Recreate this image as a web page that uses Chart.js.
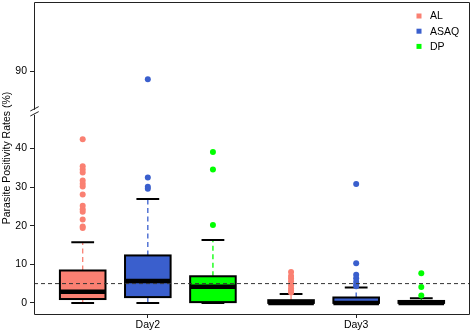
<!DOCTYPE html>
<html>
<head>
<meta charset="utf-8">
<script src="https://cdn.jsdelivr.net/npm/chart.js@4/dist/chart.umd.min.js"></script>
<style>
  html, body { margin: 0; padding: 0; background: #fff; }
  #wrap { width: 472px; height: 333px; }
</style>
</head>
<body>
<div id="wrap"><canvas id="c" width="472" height="333"></canvas></div>
<script>
// ---- data ----
const categories = ['Day2', 'Day3'];
const groups = ['AL', 'ASAQ', 'DP'];
// [group][day]
const lowerWhisker = [[0, 0], [0, 0], [0, 0]];
const q1 = [[1.0, 0], [1.5, 0], [0.2, 0]];
const median = [[2.9, 0], [5.7, 0], [4.2, 0]];
const q3 = [[8.4, 0.7], [12.3, 1.4], [6.9, 0.5]];
const upperWhisker = [[15.7, 2.3], [26.9, 4.0], [16.3, 1.2]];
const outliersAL = [[42.4, 35.4, 34.6, 33.8, 31.7, 30.9, 30.2, 28.1, 25.2, 24.3, 23.6, 21.6, 19.8, 19.4],
                    [8.0, 7.0, 6.3, 5.6, 4.6, 3.8, 3.2, 2.7]];
const outliersASAQ = [[88.0, 32.5, 30.1, 29.6],
                      [30.8, 10.3, 7.3, 6.4, 5.5, 4.7, 4.3]];
const outliersDP = [[39.1, 34.6, 20.2],
                    [7.7, 4.1, 1.9]];
const outliers = [outliersAL, outliersASAQ, outliersDP];
const yTickLabels = [0, 10, 20, 30, 40, 90];
const referenceLevel = 5;
const axisBreak = { from: 50, to: 80 };   // values between are cut out of the axis

// ---- styling / layout ----
const colors = ['#FA8072', '#3A5FCD', '#00FF00'];
const dayGap = 0.2;
const boxWidth = 0.7;
const xMin = 0.252, xMax = 6.948;
const yMin = -2.88, yMax = 78.0;
const FONT = "'Liberation Sans', Arial, Helvetica, sans-serif";

function pos(day, g) { return 1 + day * (groups.length + dayGap) + g; }
function tr(v) { return v >= axisBreak.to ? v - (axisBreak.to - axisBreak.from) : v; }
function untr(v) { return v > axisBreak.from ? v + (axisBreak.to - axisBreak.from) : v; }

const dayTicks = categories.map((c, di) => pos(di, 1));

const boxPlugin = {
  id: 'boxes',
  beforeDatasetsDraw(chart) {
    const { ctx, scales: { x, y } } = chart;
    const half = (x.getPixelForValue(boxWidth) - x.getPixelForValue(0)) / 2;
    const capHalf = half / 2;
    groups.forEach((g, gi) => {
      categories.forEach((c, di) => {
        const cx = x.getPixelForValue(pos(di, gi));
        const yLo = y.getPixelForValue(tr(lowerWhisker[gi][di]));
        const yQ1 = y.getPixelForValue(tr(q1[gi][di]));
        const yMed = y.getPixelForValue(tr(median[gi][di]));
        const yQ3 = y.getPixelForValue(tr(q3[gi][di]));
        const yHi = y.getPixelForValue(tr(upperWhisker[gi][di]));
        ctx.save();
        // whiskers
        ctx.strokeStyle = colors[gi];
        ctx.lineWidth = 1.3;
        ctx.setLineDash([5, 3.5]);
        ctx.beginPath();
        ctx.moveTo(cx, yQ3); ctx.lineTo(cx, yHi);
        ctx.moveTo(cx, yQ1); ctx.lineTo(cx, yLo);
        ctx.stroke();
        ctx.setLineDash([]);
        // caps
        ctx.strokeStyle = '#000';
        ctx.lineWidth = 2;
        ctx.beginPath();
        ctx.moveTo(cx - capHalf, yHi); ctx.lineTo(cx + capHalf, yHi);
        ctx.moveTo(cx - capHalf, yLo); ctx.lineTo(cx + capHalf, yLo);
        ctx.stroke();
        // box
        ctx.fillStyle = colors[gi];
        ctx.fillRect(cx - half, yQ3, 2 * half, yQ1 - yQ3);
        ctx.lineWidth = 2;
        ctx.strokeRect(cx - half, yQ3, 2 * half, yQ1 - yQ3);
        // median
        ctx.lineWidth = 4.5;
        ctx.beginPath();
        ctx.moveTo(cx - half, yMed); ctx.lineTo(cx + half, yMed);
        ctx.stroke();
        ctx.restore();
      });
    });
  },
  afterDraw(chart) {
    const { ctx, chartArea: a, scales: { y } } = chart;
    ctx.save();
    ctx.strokeStyle = '#222';
    ctx.lineWidth = 1;
    const c = y.getPixelForValue(axisBreak.from) + 1.3;
    const L = Math.round(a.left) + 0.5;
    ctx.beginPath();
    ctx.moveTo(L, c - 1.5); ctx.lineTo(L, a.top + 0.5);
    ctx.lineTo(a.right - 0.5, a.top + 0.5);
    ctx.lineTo(a.right - 0.5, a.bottom + 0.5);
    ctx.lineTo(L, a.bottom + 0.5);
    ctx.lineTo(L, c + 3.5);
    ctx.stroke();
    // break slashes
    ctx.beginPath();
    [c - 2.5, c + 2.5].forEach(yc => {
      ctx.moveTo(L - 4.2, yc + 2.2);
      ctx.lineTo(L + 4.2, yc - 2.2);
    });
    ctx.stroke();
    // legend
    ctx.font = '10.5px ' + FONT;
    ctx.textBaseline = 'middle';
    ctx.textAlign = 'left';
    groups.forEach((g, gi) => {
      const ly = 16 + gi * 15.2;
      ctx.fillStyle = colors[gi];
      ctx.fillRect(416.5, ly - 2.5, 5, 5);
      ctx.fillStyle = '#000';
      ctx.fillText(g, 430, ly + 0.5);
    });
    ctx.restore();
  }
};

const scatterSets = groups.map((g, gi) => ({
  type: 'scatter',
  label: g,
  data: outliers[gi].flatMap((vals, di) => vals.map(v => ({ x: pos(di, gi), y: tr(v) }))),
  backgroundColor: colors[gi],
  borderWidth: 0,
  pointRadius: 3,
  order: 1
}));

const refLine = {
  type: 'line',
  label: 'ref',
  data: [{ x: xMin, y: referenceLevel }, { x: xMax, y: referenceLevel }],
  borderColor: '#333',
  borderWidth: 1,
  borderDash: [4, 3],
  pointRadius: 0,
  fill: false,
  order: 0
};

Chart.defaults.font.family = FONT;
Chart.defaults.font.size = 10.5;
Chart.defaults.color = '#000';

new Chart(document.getElementById('c'), {
  type: 'scatter',
  data: { datasets: [...scatterSets, refLine] },
  options: {
    responsive: false,
    animation: false,
    events: [],
    layout: { autoPadding: false, padding: { top: 2, right: 2, left: 0, bottom: 0 } },
    plugins: { legend: { display: false }, tooltip: { enabled: false } },
    scales: {
      x: {
        type: 'linear',
        min: xMin, max: xMax,
        afterBuildTicks(s) { s.ticks = dayTicks.map(v => ({ value: v })); },
        afterFit(s) { s.height = 19; s.paddingLeft = 0; s.paddingRight = 0; },
        ticks: { callback: (v, i) => categories[i], padding: 1, maxRotation: 0, autoSkip: false },
        grid: { drawOnChartArea: false, tickLength: 4, color: '#222' },
        border: { display: false }
      },
      y: {
        type: 'linear',
        min: yMin, max: yMax,
        afterBuildTicks(s) { s.ticks = yTickLabels.map(v => ({ value: tr(v) })); },
        afterFit(s) { s.width = 34; s.paddingTop = 0; s.paddingBottom = 0; },
        ticks: { callback: v => String(untr(v)), padding: 3, autoSkip: false },
        grid: { drawOnChartArea: false, tickLength: 4, color: '#222' },
        border: { display: false },
        title: { display: true, text: 'Parasite Positivity Rates (%)', padding: { top: 1, bottom: 0 }, font: { size: 10.5 } }
      }
    }
  },
  plugins: [boxPlugin]
});
</script>
</body>
</html>
